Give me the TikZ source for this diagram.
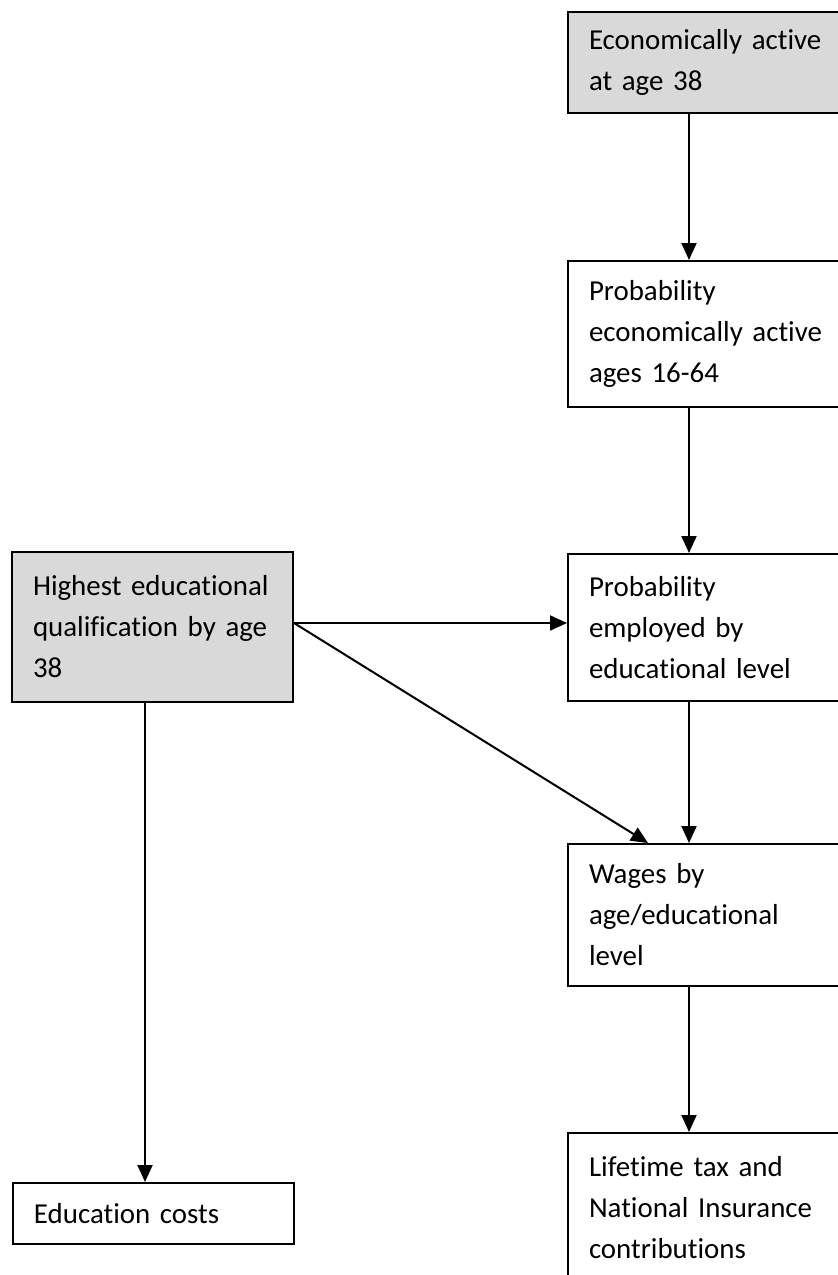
\documentclass[tikz,border=0pt]{standalone}
\usepackage{fontspec}
\setmainfont{Carlito}[Ligatures=NoCommon]
\usetikzlibrary{arrows.meta}
\newcommand\boxfont{\fontsize{28.9}{41}\selectfont\hyphenpenalty=10000\relax\hbadness=10000\relax}

\tikzset{
  box/.style={draw, line width=2pt, anchor=north west,
    inner xsep=21pt, inner ysep=0pt, font=\boxfont},
  given/.style={box, fill=black!15},
  arr/.style={line width=2pt, -{Triangle[length=17pt,width=15pt]}},
}

\begin{document}
\begin{tikzpicture}[x=1pt, y=-1pt]
  \useasboundingbox (0,0) rectangle (838,1275);

  % right column
  \node[given, text width=248pt, minimum height=101pt] (active) at (567,11)
    {Economically active\\at age 38};
  \node[box, text width=248pt, minimum height=146pt] (probact) at (567,260)
    {Probability\\economically active\\ages 16-64};
  \node[box, text width=248pt, minimum height=147pt] (probemp) at (567,553)
    {Probability\\employed by\\educational level};
  \node[box, text width=248pt, minimum height=142pt] (wages) at (567,843)
    {Wages by\\age/educational\\level};
  \node[box, text width=248pt, minimum height=150pt] (tax) at (567,1132)
    {Lifetime tax and\\National Insurance\\contributions};

  % left column
  \node[given, text width=239pt, minimum height=150pt] (qual) at (11,551)
    {Highest educational\\qualification by age\\38};
  \node[box, text width=239pt, minimum height=61pt] (costs) at (12,1182)
    {Education costs};

  \coordinate (rcol) at (689,0);
  \coordinate (lcol) at (145,0);
  \coordinate (dcol) at (648,0);
  \coordinate (qout) at ([yshift=4pt]qual.east);

  \draw[arr] (active.south -| rcol) -- (probact.north -| rcol);
  \draw[arr] (probact.south -| rcol) -- (probemp.north -| rcol);
  \draw[arr] (probemp.south -| rcol) -- (wages.north -| rcol);
  \draw[arr] (wages.south -| rcol) -- (tax.north -| rcol);
  \draw[arr] (qout) -- (qout -| probemp.west);
  \draw[arr] (qout) -- (wages.north -| dcol);
  \draw[arr] (qual.south -| lcol) -- (costs.north -| lcol);
\end{tikzpicture}
\end{document}
